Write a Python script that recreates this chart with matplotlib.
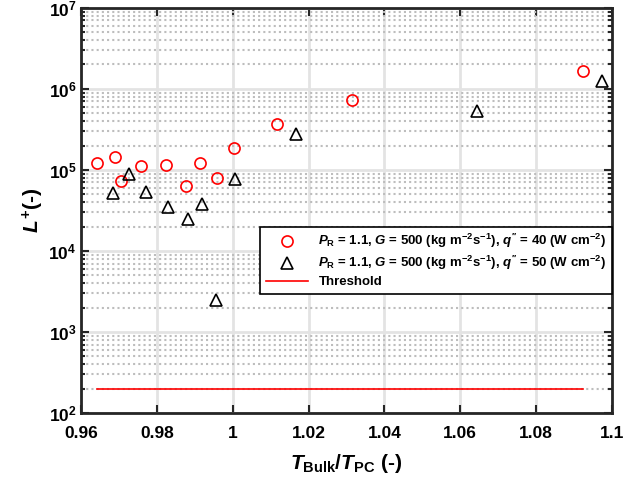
import matplotlib
matplotlib.use("Agg")
import matplotlib.pyplot as plt
from matplotlib.ticker import LogLocator, NullFormatter, FixedLocator

plt.rcParams["font.family"] = ["Liberation Sans", "DejaVu Sans"]
plt.rcParams["font.weight"] = "bold"
plt.rcParams["axes.labelweight"] = "bold"
plt.rcParams["mathtext.fontset"] = "custom"
plt.rcParams["mathtext.rm"] = "Liberation Sans:bold"
plt.rcParams["mathtext.bf"] = "Liberation Sans:bold"
plt.rcParams["mathtext.it"] = "Liberation Sans:italic:bold"
plt.rcParams["mathtext.default"] = "rm"

# q'' = 40 W/cm2
x_40 = [0.9642, 0.9690, 0.9704, 0.9757, 0.9824, 0.9877, 0.9914, 0.9957, 1.0003, 1.0116, 1.0315, 1.0925]
L_40 = [1.22e5, 1.44e5, 7.3e4, 1.12e5, 1.14e5, 6.25e4, 1.23e5, 8.05e4, 1.86e5, 3.69e5, 7.3e5, 1.65e6]

# q'' = 50 W/cm2
x_50 = [0.9685, 0.9725, 0.9770, 0.9830, 0.9883, 0.9919, 0.9955, 1.0007, 1.0166, 1.0644, 1.0975]
L_50 = [5.2e4, 8.9e4, 5.3e4, 3.5e4, 2.47e4, 3.85e4, 2.5e3, 7.8e4, 2.8e5, 5.4e5, 1.24e6]

threshold = 200
x_ticks = [0.96, 0.98, 1.0, 1.02, 1.04, 1.06, 1.08, 1.1]
x_ticklabels = ["0.96", "0.98", "1", "1.02", "1.04", "1.06", "1.08", "1.1"]

fig = plt.figure(figsize=(6.3, 4.9), dpi=100)
ax = fig.add_axes([0.129, 0.157, 0.842, 0.827])

ax.plot(x_40, L_40, "o", mfc="none", mec="red", ms=8, mew=1.2,
        label=r"$\mathit{P}_{\mathrm{R}}$ = 1.1, $\mathit{G}$ = 500 (kg m$^{-2}$s$^{-1}$), $\mathit{q}^{\prime\prime}$ = 40 (W cm$^{-2}$)")
ax.plot(x_50, L_50, "^", mfc="none", mec="black", ms=9, mew=1.2,
        label=r"$\mathit{P}_{\mathrm{R}}$ = 1.1, $\mathit{G}$ = 500 (kg m$^{-2}$s$^{-1}$), $\mathit{q}^{\prime\prime}$ = 50 (W cm$^{-2}$)")
ax.plot([x_40[0], x_40[-1]], [threshold, threshold], "-", color="red", lw=1.2, label="Threshold")

ax.set_yscale("log")
ax.set_xlim(0.96, 1.1)
ax.set_ylim(1e2, 1e7)
ax.xaxis.set_major_locator(FixedLocator(x_ticks))
ax.set_xticklabels(x_ticklabels, fontweight="bold")
ax.yaxis.set_major_locator(LogLocator(base=10, numticks=10))
ax.yaxis.set_minor_locator(LogLocator(base=10, subs=range(2, 10), numticks=20))
ax.yaxis.set_minor_formatter(NullFormatter())

ax.grid(True, which="major", color="#e3e3e3", lw=2, ls="-")
ax.grid(True, which="minor", axis="y", color="#bdbdbd", lw=1.5, ls=(0, (1, 1.5)))
ax.set_axisbelow(True)

ax.tick_params(which="both", direction="in", top=True, right=True, width=1.5, colors="#262626", labelcolor="black")
ax.tick_params(which="major", length=6, labelsize=12.5)
ax.tick_params(axis="x", which="major", pad=9)
ax.tick_params(which="minor", length=3)
for s in ax.spines.values():
    s.set_linewidth(2)
    s.set_color("#262626")

ax.set_xlabel(r"$\mathit{T}_{\mathrm{Bulk}}/\mathit{T}_{\mathrm{PC}}$ (-)", fontsize=15, fontweight="bold", labelpad=8)
ax.set_ylabel(r"$\mathit{L}^{+}$(-)", fontsize=15, fontweight="bold", labelpad=2)

leg = ax.legend(loc="upper right", bbox_to_anchor=(1.0, 0.46), borderaxespad=0,
                fontsize=9.5, fancybox=False, framealpha=1, edgecolor="black",
                handlelength=3.2, labelspacing=0.3)
leg.get_frame().set_linewidth(1.2)

fig.savefig("out.png", dpi=100)
